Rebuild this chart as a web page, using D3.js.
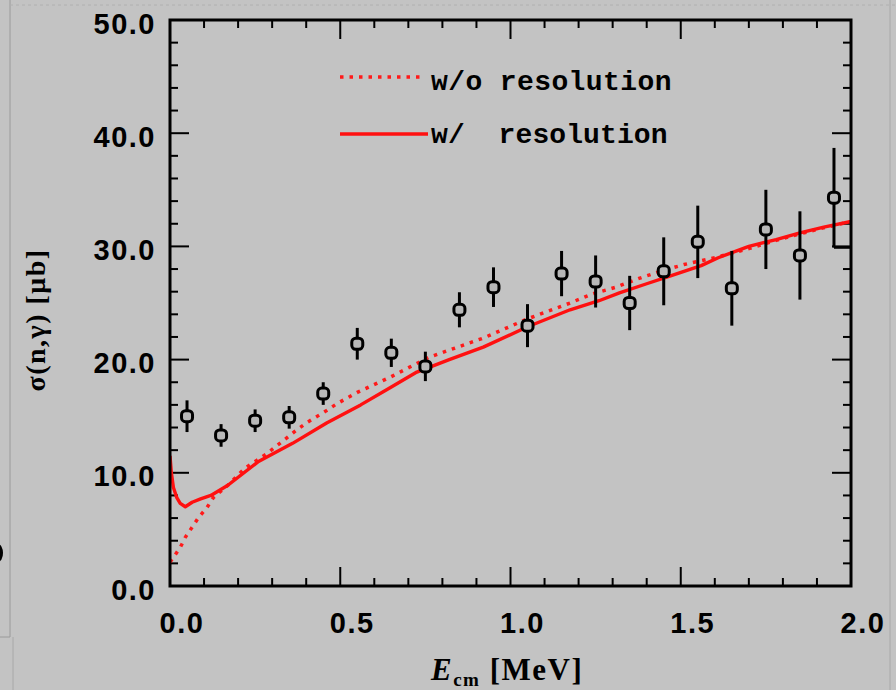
<!DOCTYPE html>
<html><head><meta charset="utf-8">
<script src="https://cdn.jsdelivr.net/npm/d3@7"></script>
<style>html,body{margin:0;padding:0;background:#c3c3c3;overflow:hidden}</style>
</head><body>
<script>
// ---- data ----
const dataE = [0.05,0.15,0.25,0.35,0.45,0.55,0.65,0.75,0.85,0.95,1.05,1.15,1.25,1.35,1.45,1.55,1.65,1.75,1.85,1.95];
const dataSigma = [15.0,13.3,14.6,14.9,17.0,21.4,20.6,19.4,24.4,26.4,23.0,27.6,26.9,25.0,27.8,30.4,26.3,31.5,29.2,34.3];
const dataErr = [1.4,1.0,1.0,1.0,1.0,1.4,1.25,1.3,1.55,1.75,1.9,2.0,2.3,2.4,3.0,3.2,3.3,3.5,3.9,4.4];

const noResE = [0,0.03,0.045,0.065,0.085,0.108,0.127,0.17,0.22,0.285,0.314,0.373,0.40,0.46,0.49,0.55,0.65,0.76,0.92,1.05,1.175,1.24,1.31,1.38,1.44,1.51,1.6,1.7,1.8,1.9,2.0];
const noResSigma = [2.1,3.4,4.3,5.2,6.1,6.9,7.8,8.9,10.4,11.7,12.4,13.8,14.4,15.5,16.1,17.1,18.5,20.2,21.9,23.6,25.0,25.8,26.4,27.2,27.8,28.4,29.0,29.8,30.7,31.5,32.2];

const resE = [0,0.004,0.01,0.02,0.03,0.045,0.065,0.09,0.12,0.17,0.26,0.36,0.46,0.56,0.64,0.725,0.82,0.92,1.05,1.175,1.26,1.32,1.40,1.47,1.56,1.61,1.70,1.78,1.85,1.92,2.0];
const resSigma = [11.5,10.0,8.7,7.8,7.3,7.0,7.4,7.7,8.0,8.9,11.0,12.6,14.4,16.0,17.4,18.9,20.0,21.1,22.9,24.4,25.2,25.9,26.7,27.4,28.3,29.0,30.0,30.6,31.2,31.7,32.2];

const xTickValues = [0,0.5,1.0,1.5,2.0];
const xTickLabels = ["0.0","0.5","1.0","1.5","2.0"];
const yTickValues = [0,10,20,30,40,50];
const yTickLabels = ["0.0","10.0","20.0","30.0","40.0","50.0"];
const legendLabels = ["w/o resolution","w/  resolution"];

// ---- layout ----
const W = 896, H = 690;
const L = 170, R = 851, T = 20, B = 586;
const svg = d3.select("body").append("svg").attr("width", W).attr("height", H);
svg.append("rect").attr("width", W).attr("height", H).attr("fill", "#c3c3c3");

// screenshot edge artifacts
svg.append("line").attr("x1",10).attr("x2",10).attr("y1",0).attr("y2",637).attr("stroke","#9a9a9a").attr("stroke-width",1);
svg.append("line").attr("x1",0).attr("x2",10).attr("y1",637).attr("y2",637).attr("stroke","#9a9a9a").attr("stroke-width",1);
svg.append("line").attr("x1",13).attr("x2",13).attr("y1",637).attr("y2",690).attr("stroke","#a8a8a8").attr("stroke-width",1);
svg.append("line").attr("x1",890).attr("x2",890).attr("y1",0).attr("y2",690).attr("stroke","#a8a8a8").attr("stroke-width",1);
svg.append("line").attr("x1",10).attr("x2",896).attr("y1",5).attr("y2",5).attr("stroke","#b0b0b0").attr("stroke-width",1).attr("stroke-dasharray","3,3");
svg.append("ellipse").attr("cx",-2).attr("cy",553).attr("rx",5).attr("ry",9).attr("fill","#000");

const x = d3.scaleLinear().domain([0,2]).range([L,R]);
const y = d3.scaleLinear().domain([0,50]).range([B,T]);

const fontTick = "Liberation Sans, Arial, sans-serif";
const g = svg.append("g");

// ticks (inward) on all four sides
const xMinor = d3.range(0, 2.0001, 0.1);
const yMinor = d3.range(0, 50.001, 2);
function isMajorX(v){ return Math.abs(v*2 - Math.round(v*2)) < 1e-6; }
function isMajorY(v){ return Math.abs(v/10 - Math.round(v/10)) < 1e-6; }
xMinor.forEach(v => {
  const len = isMajorX(v) ? 19 : 8;
  g.append("line").attr("x1",x(v)).attr("x2",x(v)).attr("y1",B).attr("y2",B-len).attr("stroke","#000").attr("stroke-width",2);
  g.append("line").attr("x1",x(v)).attr("x2",x(v)).attr("y1",T).attr("y2",T+len).attr("stroke","#000").attr("stroke-width",2);
});
yMinor.forEach(v => {
  const len = isMajorY(v) ? 19 : 8;
  g.append("line").attr("x1",L).attr("x2",L+len).attr("y1",y(v)).attr("y2",y(v)).attr("stroke","#000").attr("stroke-width",2);
  g.append("line").attr("x1",R).attr("x2",R-len).attr("y1",y(v)).attr("y2",y(v)).attr("stroke","#000").attr("stroke-width",2);
});

// tick labels
xTickValues.forEach((v,i) => {
  g.append("text").attr("x", x(v)+12).attr("y", 633).attr("text-anchor","middle")
    .attr("font-family",fontTick).attr("font-weight","bold").attr("font-size",29)
    .attr("letter-spacing","1.5px").attr("fill","#000").text(xTickLabels[i]);
});
yTickValues.forEach((v,i) => {
  g.append("text").attr("x", 156).attr("y", y(v)+13.5).attr("text-anchor","end")
    .attr("font-family",fontTick).attr("font-weight","bold").attr("font-size",29)
    .attr("letter-spacing","1.5px").attr("fill","#000").text(yTickLabels[i]);
});

// curves
svg.append("clipPath").attr("id","clip").append("rect").attr("x",L).attr("y",T).attr("width",R-L).attr("height",B-T);
const line = d3.line().x(d=>x(d[0])).y(d=>y(d[1]));
const noResPts = noResE.map((e,i)=>[e,noResSigma[i]]);
const resPts = resE.map((e,i)=>[e,resSigma[i]]);
const curves = svg.append("g").attr("clip-path","url(#clip)");
curves.append("path").attr("d", line(noResPts)).attr("fill","none").attr("stroke","#ff1a1a")
  .attr("stroke-width",3.5).attr("stroke-dasharray","3.5,6");
curves.append("path").attr("d", line(resPts)).attr("fill","none").attr("stroke","#ff1010")
  .attr("stroke-width",3.4).attr("stroke-linejoin","round");

// data points with error bars
const pts = svg.append("g");
dataE.forEach((e,i) => {
  const s = dataSigma[i], er = dataErr[i];
  pts.append("line").attr("x1",x(e)).attr("x2",x(e)).attr("y1",y(s-er)).attr("y2",y(s+er))
    .attr("stroke","#000").attr("stroke-width",3);
});
// last error bar lower end joined to the right frame
{
  const i = dataE.length-1;
  pts.append("line").attr("x1",x(dataE[i])).attr("x2",R).attr("y1",y(dataSigma[i]-dataErr[i])).attr("y2",y(dataSigma[i]-dataErr[i]))
    .attr("stroke","#000").attr("stroke-width",2.5);
}
dataE.forEach((e,i) => {
  pts.append("rect").attr("x",x(e)-5.5).attr("y",y(dataSigma[i])-5.5).attr("width",11).attr("height",11)
    .attr("rx",4).attr("fill","#b8b8b8").attr("stroke","#000").attr("stroke-width",3);
});

// frame
svg.append("rect").attr("x",L).attr("y",T).attr("width",R-L).attr("height",B-T)
  .attr("fill","none").attr("stroke","#000").attr("stroke-width",3);

// legend
const leg = svg.append("g");
leg.append("line").attr("x1",340).attr("x2",422).attr("y1",77).attr("y2",77)
  .attr("stroke","#ff1a1a").attr("stroke-width",3.5).attr("stroke-dasharray","3.5,6");
leg.append("line").attr("x1",340).attr("x2",428).attr("y1",134).attr("y2",134)
  .attr("stroke","#ff1010").attr("stroke-width",3.4);
const fontLeg = "Liberation Mono, Courier New, monospace";
leg.append("text").attr("x",431).attr("y",90).attr("font-family",fontLeg).attr("font-weight","bold")
  .attr("font-size",28).attr("fill","#000").style("white-space","pre").attr("letter-spacing","0.4px").text(legendLabels[0]);
leg.append("text").attr("x",431).attr("y",143).attr("font-family",fontLeg).attr("font-weight","bold")
  .attr("font-size",28).attr("fill","#000").style("white-space","pre").attr("letter-spacing","0.1px").text(legendLabels[1]);

// axis titles
const fontSerif = "Liberation Serif, Times New Roman, serif";
const xt = svg.append("text").attr("x",431).attr("y",680).attr("font-family",fontSerif).attr("font-weight","bold")
  .attr("font-size",31).attr("letter-spacing","1.5px").attr("fill","#000");
xt.append("tspan").attr("font-style","italic").text("E");
xt.append("tspan").attr("font-size",19).attr("dy",6).text("cm");
xt.append("tspan").attr("dy",-6).text("\u00a0[MeV]");

const yt = svg.append("text").attr("transform","translate(45,320) rotate(-90)").attr("text-anchor","middle")
  .attr("font-family",fontSerif).attr("font-weight","bold").attr("font-size",28).attr("letter-spacing","1.5px").attr("fill","#000");
yt.append("tspan").text("σ(n,γ)\u00a0[μb]");
</script>
</body></html>
